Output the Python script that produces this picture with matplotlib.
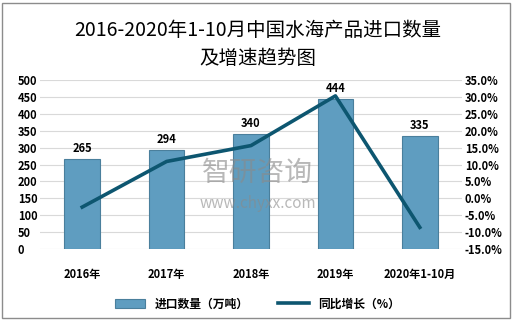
import numpy as np
import matplotlib.pyplot as plt
from matplotlib.patches import Rectangle

plt.rcParams['font.family'] = ['Noto Sans CJK SC', 'DejaVu Sans']

years = ['2016年', '2017年', '2018年', '2019年', '2020年1-10月']
volume = [265, 294, 340, 444, 335]           # 万吨
growth = [-2.6, 10.9, 15.6, 30.3, -8.6]      # %

fig = plt.figure(figsize=(5.15, 3.21), dpi=100)
ax = fig.add_axes([40 / 515, 72 / 321, 422 / 515, 169 / 321])
ax2 = ax.twinx()

x = np.arange(len(years))
bars = ax.bar(x, volume, width=0.42, color='#5f9dc0', edgecolor='#4a7f9c',
              linewidth=0.8, zorder=2, label='进口数量（万吨）')
for xi, v in zip(x, volume):
    ax.text(xi, v + 12, str(v), ha='center', va='bottom', fontsize=8,
            fontweight='bold')

ax.set_ylim(0, 500)
ax.set_yticks(range(0, 501, 50))
ax.set_xlim(-0.5, len(years) - 0.5)
ax.set_xticks(x)
ax.set_xticklabels(years, fontsize=8, fontweight='bold')
ax.tick_params(axis='x', length=0, pad=14)
ax.tick_params(axis='y', length=0, labelsize=8, pad=16)
for lab in ax.get_yticklabels():
    lab.set_fontweight('bold')
    lab.set_horizontalalignment('left')
ax.grid(axis='y', color='#d9d9d9', linewidth=0.8, zorder=0)
ax.set_axisbelow(True)

line, = ax2.plot(x, growth, color='#0d5670', linewidth=2.6, zorder=3,
                 label='同比增长（%）')
ax2.set_ylim(-15, 35)
ax2.set_yticks(range(-15, 36, 5))
ax2.set_yticklabels([f'{t:.1f}%' for t in range(-15, 36, 5)])
ax2.tick_params(axis='y', length=0, labelsize=8, pad=2)
for lab in ax2.get_yticklabels():
    lab.set_fontweight('bold')

for a in (ax, ax2):
    for s in a.spines.values():
        s.set_visible(False)

# title, two lines
fig.text(0.5, 1 - 30 / 321, '2016-2020年1-10月中国水海产品进口数量',
         ha='center', va='center', fontsize=14)
fig.text(0.5, 1 - 58 / 321, '及增速趋势图', ha='center', va='center',
         fontsize=14)

# watermark
fig.text(0.5, 148 / 321, '智研咨询', ha='center', va='center', fontsize=20,
         color='#8a8a8a', alpha=0.6)
fig.text(0.5, 118 / 321, 'www.chyxx.com', ha='center', va='center',
         fontsize=11, color='#8a8a8a', alpha=0.6)

fig.legend(handles=[bars, line], loc='center', bbox_to_anchor=(0.5, 17 / 321),
           ncol=2, frameon=False, handlelength=2.6,
           columnspacing=2.5, prop={'weight': 'bold', 'size': 8.5})

fig.patches.append(Rectangle((2 / 515, 3 / 321), 508 / 515, 315 / 321,
                             transform=fig.transFigure, fill=False,
                             edgecolor='#8c8c8c', linewidth=1))

fig.savefig('out.png', dpi=100)
